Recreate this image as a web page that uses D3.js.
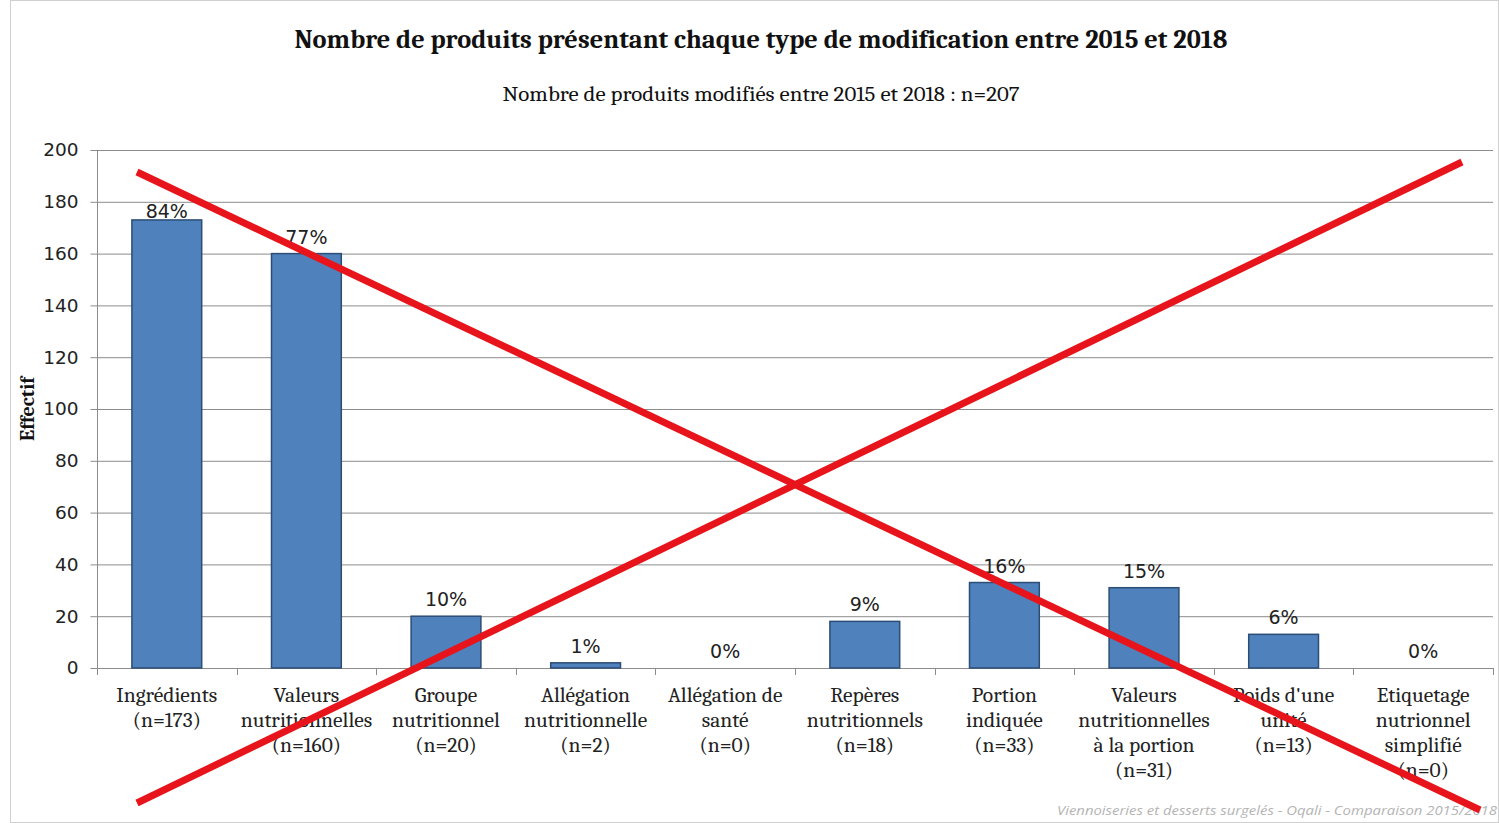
<!DOCTYPE html>
<html><head><meta charset="utf-8">
<script src="https://cdn.jsdelivr.net/npm/d3@7"></script>
<style>body{margin:0;background:#fff;} svg{display:block;}</style>
</head><body><svg id="c" width="1499" height="823"></svg>
<script>
const categories = [
  ["Ingrédients","(n=173)"],
  ["Valeurs","nutritionnelles","(n=160)"],
  ["Groupe","nutritionnel","(n=20)"],
  ["Allégation","nutritionnelle","(n=2)"],
  ["Allégation de","santé","(n=0)"],
  ["Repères","nutritionnels","(n=18)"],
  ["Portion","indiquée","(n=33)"],
  ["Valeurs","nutritionnelles","à la portion","(n=31)"],
  ["Poids d'une","unité","(n=13)"],
  ["Etiquetage","nutrionnel","simplifié","(n=0)"]
];
const values = [173,160,20,2,0,18,33,31,13,0];
const percents = ["84%","77%","10%","1%","0%","9%","16%","15%","6%","0%"];
const yTicks = [0,20,40,60,80,100,120,140,160,180,200];
const title = "Nombre de produits présentant chaque type de modification entre 2015 et 2018";
const subtitle = "Nombre de produits modifiés entre 2015 et 2018 : n=207";
const yLabel = "Effectif";
const source = "Viennoiseries et desserts surgelés - Oqali - Comparaison 2015/2018";

const svg = d3.select("#c");
const W = 1499, H = 823;
const m = {left:97, right:6, top:150, bottom:155};
const serif = "Cambria, 'DejaVu Serif', serif";
const sans = "Verdana, 'DejaVu Sans', sans-serif";

svg.append("rect").attr("x",10.5).attr("y",0.5).attr("width",W-11).attr("height",H-1)
  .attr("fill","#fff").attr("stroke","#d0d0d0");

const idx = d3.range(values.length);
const x = d3.scaleBand().domain(idx).range([m.left, W-m.right]).paddingInner(0.5).paddingOuter(0.25);
const xb = d3.scaleBand().domain(idx).range([m.left, W-m.right]);
const y = d3.scaleLinear().domain([0,200]).range([H-m.bottom, m.top]);

// gridlines
svg.append("g").selectAll("line").data(yTicks.filter(d=>d>0)).join("line")
  .attr("x1",m.left).attr("x2",W-m.right).attr("y1",d=>y(d)+0.5).attr("y2",d=>y(d)+0.5)
  .attr("stroke","#8c8c8c").attr("stroke-width",1);

// y axis
const ya = svg.append("g").attr("transform",`translate(${m.left+0.5},0)`)
  .call(d3.axisLeft(y).tickValues(yTicks).tickSize(7).tickPadding(12));
ya.select(".domain").attr("stroke","#8c8c8c").attr("d",`M0,${y(200)}V${y(0)}`);
ya.selectAll(".tick line").attr("stroke","#8c8c8c");
ya.selectAll("text").attr("font-family",sans).attr("font-size",18.5).attr("fill","#222");

// x axis line and ticks between categories
svg.append("line").attr("x1",m.left).attr("x2",W-m.right).attr("y1",y(0)+0.5).attr("y2",y(0)+0.5).attr("stroke","#8c8c8c");
svg.append("g").selectAll("line").data(d3.range(values.length+1)).join("line")
  .attr("x1",d=>Math.round(d<values.length?xb(d):W-m.right)+0.5)
  .attr("x2",d=>Math.round(d<values.length?xb(d):W-m.right)+0.5)
  .attr("y1",y(0)).attr("y2",y(0)+7).attr("stroke","#8c8c8c");

// bars
svg.append("g").selectAll("rect").data(idx).join("rect")
  .attr("x",d=>x(d)).attr("width",x.bandwidth())
  .attr("y",d=>y(values[d])).attr("height",d=>y(0)-y(values[d]))
  .attr("fill","#4f81bd").attr("stroke","#2c4d75").attr("stroke-width",1.5)
  .attr("display",d=>values[d]>0?null:"none");

// percent labels
svg.append("g").selectAll("text").data(idx).join("text")
  .attr("x",d=>xb(d)+xb.bandwidth()/2).attr("y",d=>y(values[d])-(d===0?2:10))
  .attr("text-anchor","middle").attr("font-family",sans).attr("font-size",19).attr("fill","#222")
  .text(d=>percents[d]);

// category labels
const cl = svg.append("g").selectAll("text").data(idx).join("text")
  .attr("text-anchor","middle").attr("font-family",serif).attr("font-size",21.5).attr("fill","#222");
cl.each(function(d){
  const t = d3.select(this);
  categories[d].forEach((s,i)=>{
    t.append("tspan").attr("x",xb(d)+xb.bandwidth()/2).attr("y",y(0)+34+i*25).text(s);
  });
});

// y label
svg.append("text").attr("transform",`translate(34,${(y(0)+y(200))/2}) rotate(-90)`)
  .attr("text-anchor","middle").attr("font-family",serif).attr("font-weight","bold").attr("font-size",20)
  .attr("fill","#111").text(yLabel);

// titles
svg.append("text").attr("x",761).attr("y",48).attr("text-anchor","middle")
  .attr("font-family",serif).attr("font-weight","bold").attr("font-size",26.5).attr("fill","#111")
  .attr("textLength",933).attr("lengthAdjust","spacingAndGlyphs").text(title);
svg.append("text").attr("x",761).attr("y",101).attr("text-anchor","middle")
  .attr("font-family",serif).attr("font-size",20).attr("fill","#111")
  .attr("textLength",517).attr("lengthAdjust","spacingAndGlyphs").text(subtitle);

// source
svg.append("text").attr("x",1497).attr("y",815).attr("text-anchor","end")
  .attr("font-family","'Open Sans', sans-serif").attr("font-style","italic").attr("font-size",13).attr("fill","#b4b4b4")
  .attr("textLength",440).attr("lengthAdjust","spacingAndGlyphs").text(source);

// red cross overlay (relative to chart frame)
const cross = [
  [[137/W,172/H],[1480/W,810/H]],
  [[137/W,803/H],[1462/W,162/H]]
];
svg.append("g").selectAll("line").data(cross).join("line")
  .attr("x1",d=>d[0][0]*W).attr("y1",d=>d[0][1]*H).attr("x2",d=>d[1][0]*W).attr("y2",d=>d[1][1]*H)
  .attr("stroke","#e8141b").attr("stroke-width",7).attr("stroke-linecap","butt");
</script></body></html>
